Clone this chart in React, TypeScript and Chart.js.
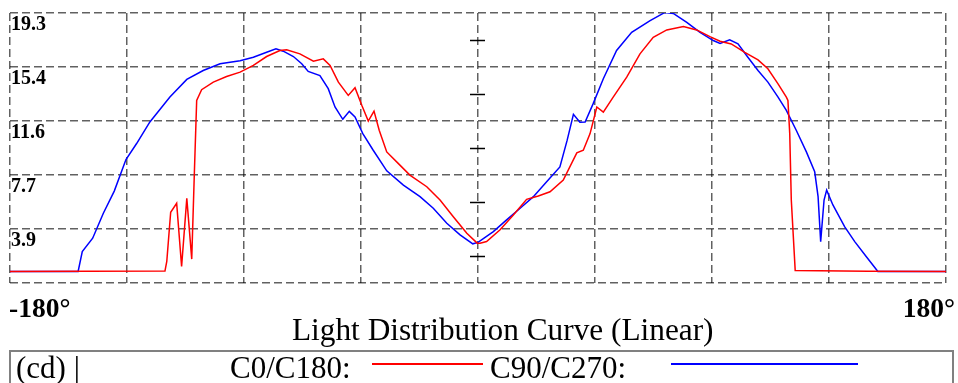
import React, { useEffect, useRef } from "react";
import { Chart, registerables } from "chart.js";

Chart.register(...registerables);

// Axis ticks
const angleTicks = [-180, -135, -90, -45, 0, 45, 90, 135, 180];
const cdTicks = [0, 3.86, 7.72, 11.58, 15.44, 19.3];

// C0/C180 (red)
const c0Angles = [
  -180, -150, -120.4, -119.7, -118.2, -115.9, -114.0, -112.0, -110.1, -109.1, -108.2,
  -106.3, -101.8, -96.7, -91.5, -86.4, -81.3, -76.2, -73.6, -68.5, -63.3, -59.5,
  -56.9, -53.7, -49.9, -47.3, -44.7, -42.2, -40.0, -38.0, -35.1, -30.7, -26.2,
  -19.7, -14.6, -9.5, -4.3, -0.3, 0.8, 3.3, 8.5, 13.6, 18.7, 23.2, 27.7, 32.8,
  38.0, 40.5, 43.1, 45.7, 48.2, 52.0, 57.2, 62.3, 67.4, 72.6, 79.0, 84.1, 89.2,
  93.1, 97.4, 102.6, 107.7, 111.5, 115.4, 118.6, 119.2, 119.9, 120.5, 122.0, 150, 180,
];
const c0Values = [
  0.83, 0.84, 0.85, 1.54, 5.06, 5.7, 1.18, 6.05, 1.71, 7.83, 13.05,
  13.82, 14.36, 14.76, 15.07, 15.55, 16.19, 16.62, 16.67, 16.38, 15.85, 16.02,
  15.55, 14.36, 13.41, 13.96, 12.7, 11.58, 12.29, 10.92, 9.37, 8.55, 7.71,
  6.88, 5.93, 4.74, 3.56, 2.85, 2.85, 2.96, 3.8, 4.86, 5.98, 6.22, 6.52, 7.36,
  9.3, 9.49, 10.68, 12.58, 12.22, 13.29, 14.71, 16.38, 17.56, 18.09, 18.33, 18.09, 17.61,
  17.28, 17.09, 16.49, 15.95, 15.31, 14.24, 13.29, 13.05, 10.68, 5.93, 0.9, 0.84, 0.83,
];

// C90/C270 (blue)
const c90Angles = [
  -180, -153.8, -152.2, -148.2, -144.1, -139.9, -135.4, -131.3, -126.2, -118.5, -112.0,
  -105.7, -99.2, -91.5, -86.4, -81.3, -77.7, -74.9, -71.0, -67.8, -65.3, -60.8,
  -57.6, -55.0, -52.0, -49.5, -47.3, -44.3, -40.3, -35.1, -28.7, -22.3, -17.2,
  -12.0, -6.9, -2.0, 0, 5.9, 11.0, 16.2, 21.3, 26.4, 31.5, 34.3, 36.7, 39.2, 41.2,
  44.3, 48.2, 53.3, 59.1, 66.2, 71.9, 75.1, 80.3, 85.4, 90.5, 93.1, 96.8, 100.0,
  103.8, 107.7, 111.5, 115.4, 118.6, 122.4, 126.3, 129.5, 130.8, 131.8, 133.1, 134.1,
  136.5, 141.0, 144.9, 149.3, 153.8, 180,
];
const c90Values = [
  0.83, 0.83, 2.25, 3.2, 4.99, 6.57, 8.83, 9.97, 11.51, 13.29, 14.55,
  15.19, 15.67, 15.88, 16.14, 16.49, 16.74, 16.57, 16.19, 15.67, 15.12, 14.83,
  13.89, 12.58, 11.7, 12.27, 11.87, 10.68, 9.49, 8.02, 7.0, 6.17, 5.34,
  4.27, 3.44, 2.8, 2.9, 3.67, 4.51, 5.34, 6.17, 7.24, 8.3, 10.21, 12.06, 11.49, 11.51,
  12.82, 14.6, 16.62, 17.92, 18.75, 19.34, 19.27, 18.63, 17.92, 17.33, 17.13, 17.38, 17.09,
  16.14, 15.19, 14.36, 13.29, 12.34, 10.92, 9.37, 7.95, 6.17, 2.96, 5.93, 6.64,
  5.58, 4.03, 2.96, 1.89, 0.83, 0.83,
];

const SERIF = '"Liberation Serif", "Times New Roman", Times, serif';

const centerTicks = {
  id: "centerTicks",
  beforeDatasetsDraw(chart: any) {
    const xs = chart.scales.x;
    const ys = chart.scales.y;
    const ctx = chart.ctx;
    const cx = xs.getPixelForValue(0);
    ctx.save();
    ctx.strokeStyle = "#000";
    ctx.lineWidth = 1.5;
    for (let i = 0; i < cdTicks.length - 1; i++) {
      const v = (cdTicks[i] + cdTicks[i + 1]) / 2;
      const py = Math.round(ys.getPixelForValue(v)) + 0.5;
      ctx.beginPath();
      ctx.moveTo(cx - 8, py);
      ctx.lineTo(cx + 7, py);
      ctx.stroke();
    }
    ctx.restore();
  },
};

export default function App() {
  const ref = useRef<HTMLCanvasElement>(null);
  useEffect(() => {
    if (!ref.current) return;
    const gridColor = "rgba(0,0,0,0.62)";
    const chart = new Chart(ref.current, {
      type: "line",
      data: {
        datasets: [
          {
            label: "C0/C180",
            data: c0Angles.map((a, i) => ({ x: a, y: c0Values[i] })),
            borderColor: "#ff0000",
            borderWidth: 1.5,
            pointRadius: 0,
            tension: 0,
            fill: false,
          },
          {
            label: "C90/C270",
            data: c90Angles.map((a, i) => ({ x: a, y: c90Values[i] })),
            borderColor: "#0000ff",
            borderWidth: 1.5,
            pointRadius: 0,
            tension: 0,
            fill: false,
          },
        ],
      },
      options: {
        animation: false,
        responsive: false,
        maintainAspectRatio: false,
        layout: { padding: { left: 8, right: 12, top: 12, bottom: 100 } },
        plugins: { legend: { display: false }, tooltip: { enabled: false }, title: { display: false } },
        scales: {
          x: {
            type: "linear",
            min: -180,
            max: 180,
            afterBuildTicks: (s: any) => {
              s.ticks = angleTicks.map((v) => ({ value: v }));
            },
            ticks: { display: false },
            grid: { color: gridColor, lineWidth: 1.5, drawTicks: false },
            border: { display: false, dash: [8, 4] },
          },
          y: {
            type: "linear",
            position: "left",
            min: 0,
            max: 19.3,
            afterBuildTicks: (s: any) => {
              s.ticks = cdTicks.map((v) => ({ value: v }));
            },
            ticks: {
              mirror: true,
              padding: 1,
              labelOffset: 12,
              autoSkip: false,
              color: "#000",
              font: { family: SERIF, size: 20, weight: "bold" },
              callback: (v: any) => (Number(v) === 0 ? "" : Number(v).toFixed(1)),
            },
            grid: { color: gridColor, lineWidth: 1.5, drawTicks: false },
            border: { display: false, dash: [8, 4] },
          },
        },
      },
      plugins: [centerTicks],
    } as any);
    return () => chart.destroy();
  }, []);

  const abs: React.CSSProperties = { position: "absolute", lineHeight: 1, whiteSpace: "nowrap", color: "#000" };

  return (
    <div style={{ position: "absolute", left: 0, top: 0, width: 958, height: 383, overflow: "hidden", background: "#fff", fontFamily: SERIF }}>
      <canvas ref={ref} width={958} height={383} style={{ position: "absolute", left: 0, top: 0, width: 958, height: 383 }} />
      <span style={{ ...abs, left: 9, top: 294, fontSize: 27.5, fontWeight: "bold" }}>-180°</span>
      <span style={{ ...abs, right: 3, top: 294, fontSize: 27.5, fontWeight: "bold" }}>180°</span>
      <span style={{ ...abs, left: 292, top: 314, fontSize: 31.3 }}>Light Distribution Curve (Linear)</span>
      <div style={{ position: "absolute", left: 9, top: 350, width: 945, height: 60, boxSizing: "border-box", border: "2px solid #808080" }} />
      <span style={{ ...abs, left: 16, top: 352, fontSize: 31 }}>(cd) |</span>
      <span style={{ ...abs, left: 230, top: 352, fontSize: 31 }}>C0/C180:</span>
      <div style={{ position: "absolute", left: 372, top: 363, width: 111, height: 2, background: "#ff0000" }} />
      <span style={{ ...abs, left: 490, top: 352, fontSize: 31 }}>C90/C270:</span>
      <div style={{ position: "absolute", left: 671, top: 363, width: 187, height: 2, background: "#0000ff" }} />
    </div>
  );
}
